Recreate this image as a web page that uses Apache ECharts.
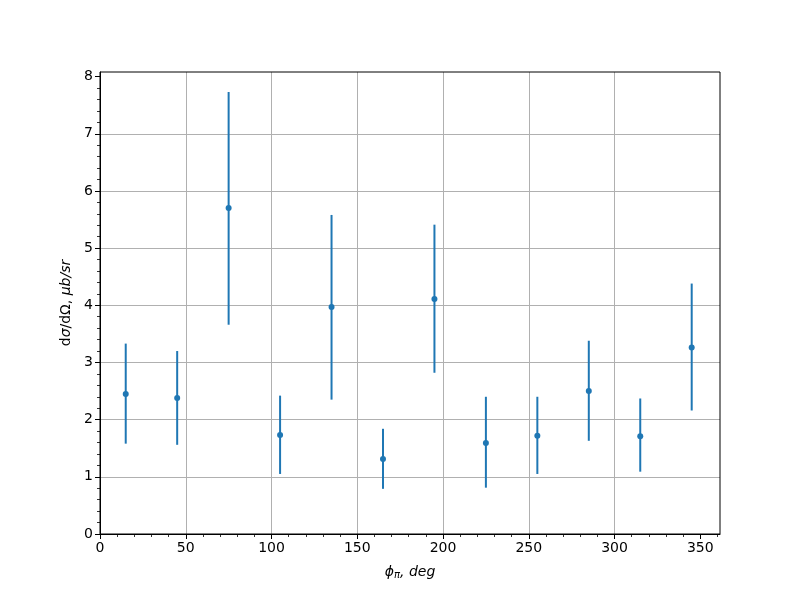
<!DOCTYPE html>
<html>
<head>
<meta charset="utf-8">
<script src="https://cdn.jsdelivr.net/npm/echarts@6/dist/echarts.min.js"></script>
<style>html,body{margin:0;padding:0;background:#fff;}#c{width:800px;height:600px;}</style>
</head>
<body>
<div id="c"></div>
<script>
const phi = [15, 45, 75, 105, 135, 165, 195, 225, 255, 285, 315, 345];
const xsec = [2.45, 2.38, 5.70, 1.73, 3.97, 1.31, 4.11, 1.59, 1.72, 2.50, 1.71, 3.26];
const errLow = [1.58, 1.56, 3.66, 1.05, 2.35, 0.79, 2.82, 0.81, 1.05, 1.63, 1.09, 2.16];
const errHigh = [3.33, 3.20, 7.73, 2.42, 5.58, 1.84, 5.41, 2.40, 2.40, 3.38, 2.37, 4.38];
const xTicks = [0, 50, 100, 150, 200, 250, 300, 350];
const yTicks = [0, 1, 2, 3, 4, 5, 6, 7, 8];

const C = '#1f77b4';
const font = 'DejaVu Sans';
const chart = echarts.init(document.getElementById('c'), null, {renderer: 'canvas'});
const errData = phi.map((p, i) => [p, errLow[i], errHigh[i]]);
const ptData = phi.map((p, i) => [p, xsec[i]]);

function axisCommon(ticks) {
  return {
    axisLine: {show: true, onZero: false, lineStyle: {color: '#000', width: 1}},
    axisTick: {show: true, inside: false, length: 5, customValues: ticks, lineStyle: {color: '#000', width: 1}},
    minorTick: {show: true, splitNumber: 5, length: 3, lineStyle: {color: '#000', width: 0.8}},
    splitLine: {show: true, showMinLine: false, showMaxLine: false, lineStyle: {color: '#b0b0b0', width: 1}},
    minorSplitLine: {show: false},
    axisLabel: {
      color: '#000', fontFamily: font, fontSize: 14, margin: 7,
      customValues: ticks,
      formatter: v => String(v)
    }
  };
}

chart.setOption({
  animation: false,
  backgroundColor: '#fff',
  grid: {left: 100, right: 80, top: 72, bottom: 66, show: true, borderColor: '#000', borderWidth: 1, backgroundColor: 'transparent', z: 5},
  xAxis: Object.assign({
    type: 'value', min: 0, max: 361.5, interval: 50,
    name: '{i|ϕ}{s|π}{i|, deg}', nameLocation: 'middle', nameGap: 30,
    nameTextStyle: {
      rich: {
        i: {fontFamily: font, fontStyle: 'italic', fontSize: 14, color: '#000'},
        s: {fontFamily: font, fontStyle: 'italic', fontSize: 10, color: '#000', verticalAlign: 'bottom', padding: [6, 0, 0, 0]}
      }
    }
  }, axisCommon(xTicks)),
  yAxis: Object.assign({
    type: 'value', min: 0, max: 8.08, interval: 1,
    name: '{u|d}{i|σ}{u|/dΩ, }{i|μb/sr}', nameLocation: 'middle', nameGap: 27,
    nameTextStyle: {
      rich: {
        u: {fontFamily: font, fontSize: 14, color: '#000'},
        i: {fontFamily: font, fontStyle: 'italic', fontSize: 14, color: '#000'}
      }
    }
  }, axisCommon(yTicks)),
  series: [
    {
      type: 'custom',
      data: errData,
      encode: {x: 0, y: [1, 2]},
      renderItem: function (params, api) {
        const x = api.value(0);
        const lo = api.coord([x, api.value(1)]);
        const hi = api.coord([x, api.value(2)]);
        return {
          type: 'line',
          shape: {x1: lo[0], y1: lo[1], x2: hi[0], y2: hi[1]},
          style: {stroke: C, lineWidth: 2}
        };
      },
      z: 2
    },
    {
      type: 'scatter',
      data: ptData,
      symbol: 'circle',
      symbolSize: 6,
      itemStyle: {color: C, opacity: 1},
      z: 3
    }
  ]
});
</script>
</body>
</html>
